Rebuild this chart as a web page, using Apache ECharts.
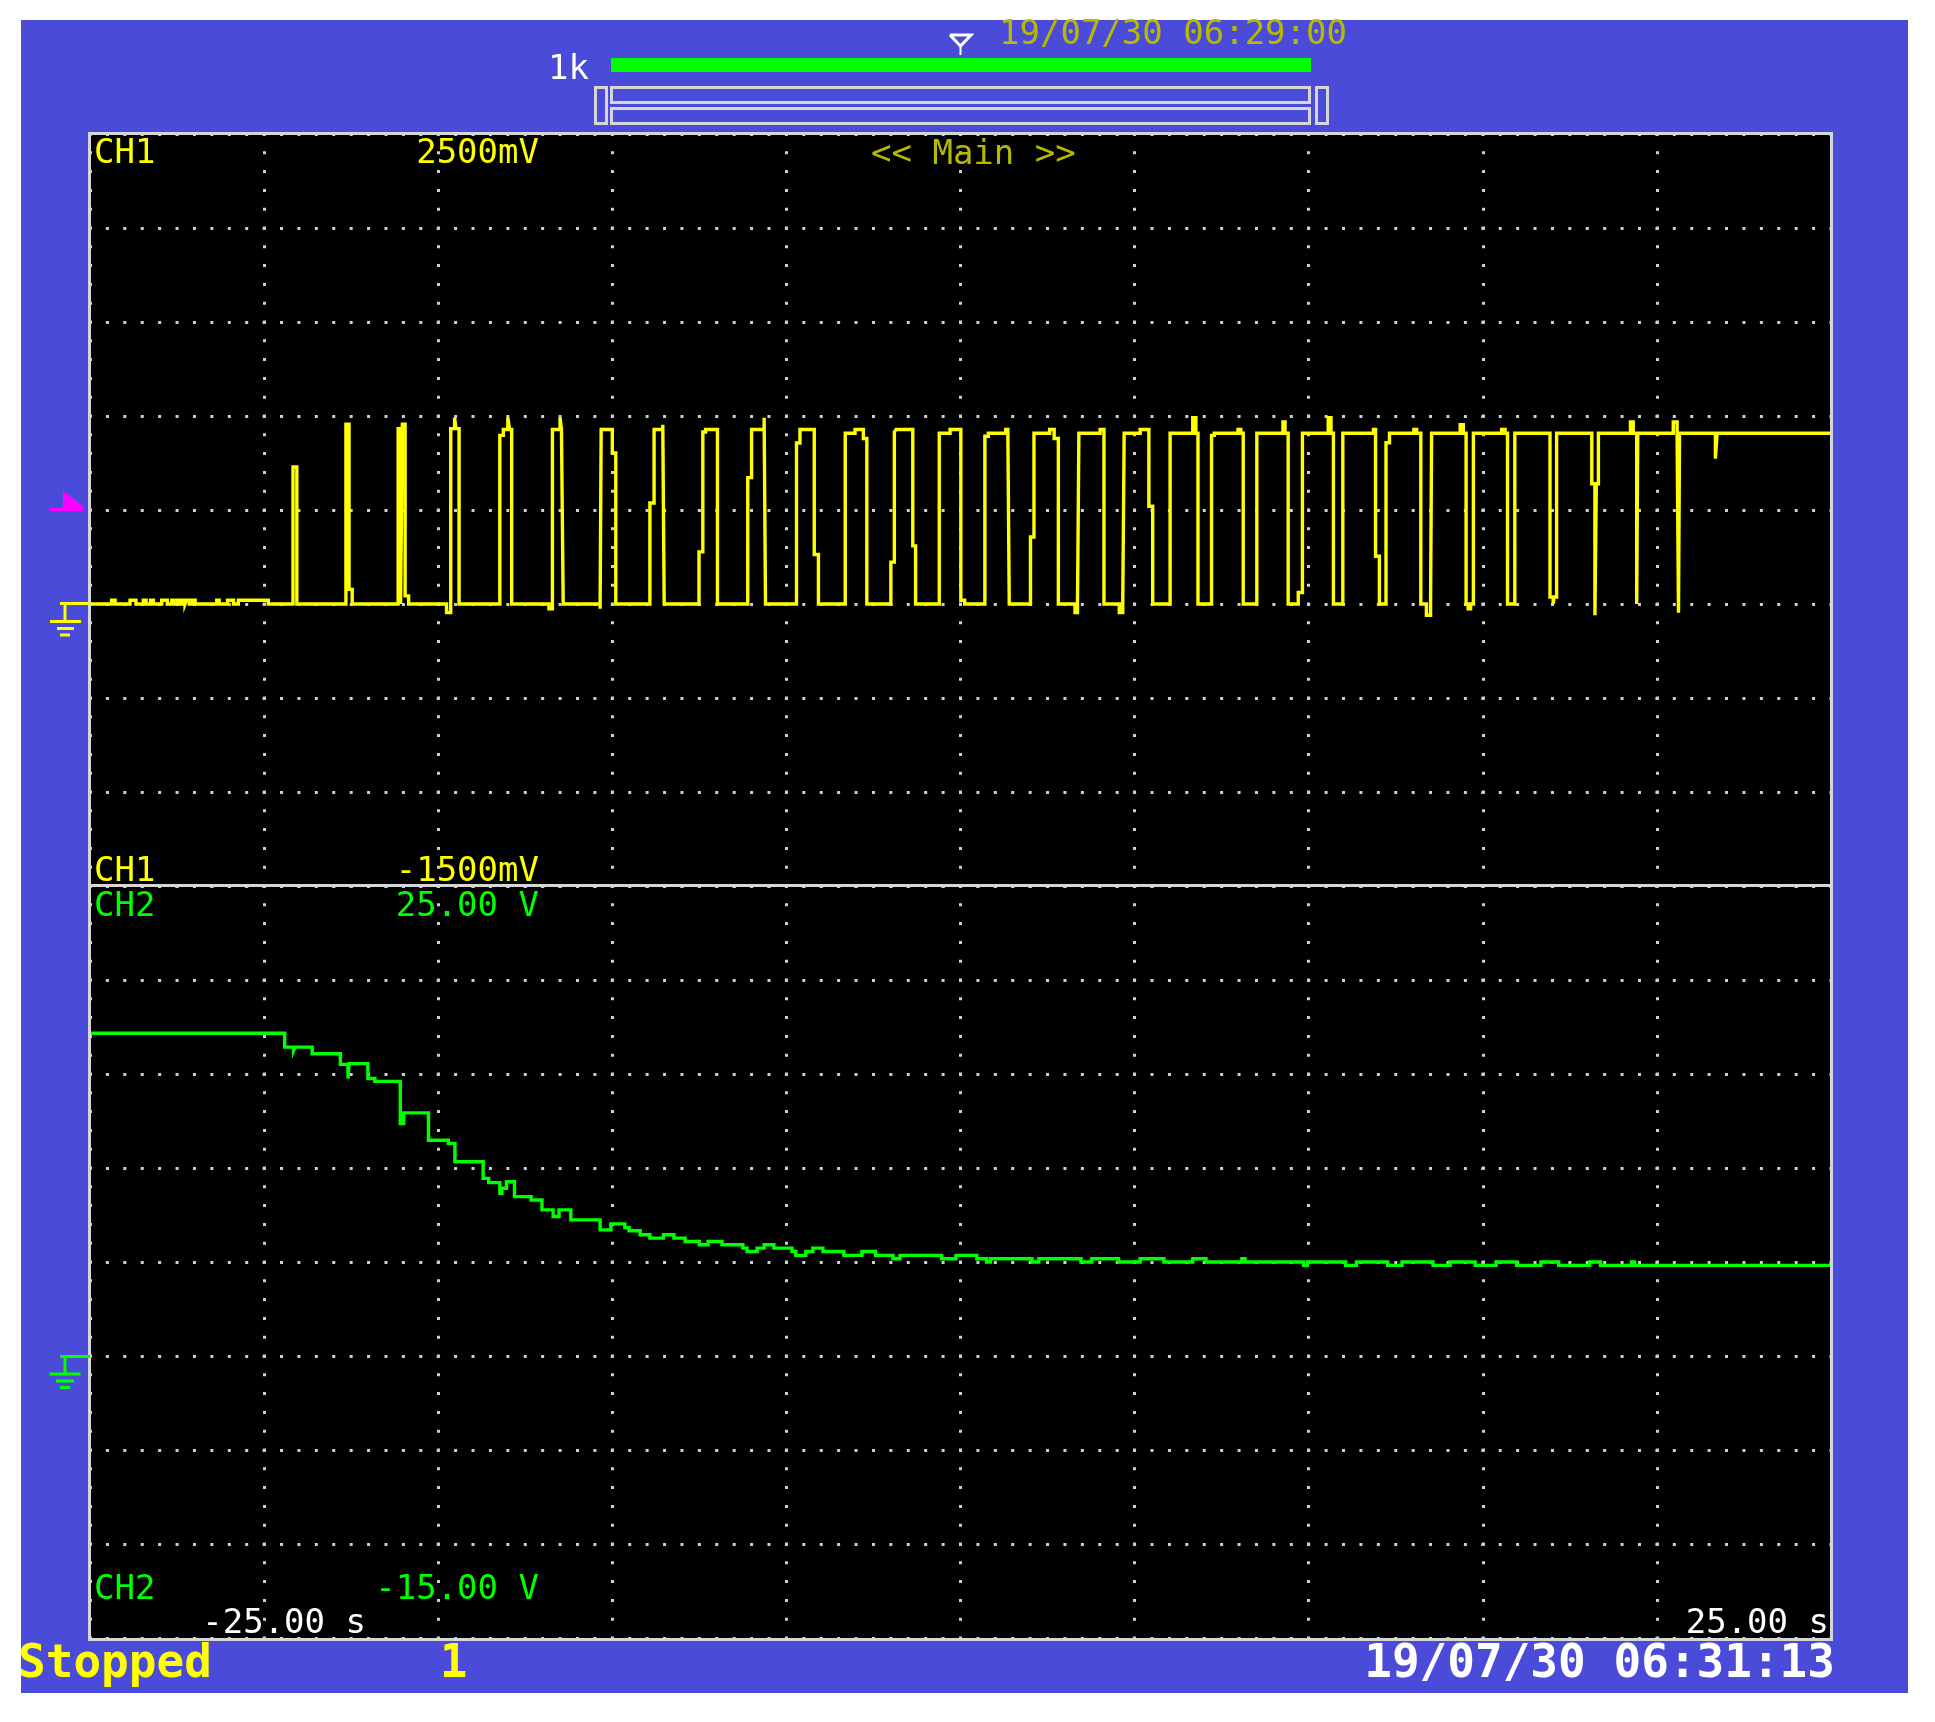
<!DOCTYPE html>
<html><head><meta charset="utf-8">
<script src="https://cdn.jsdelivr.net/npm/echarts@6/dist/echarts.min.js"></script>
<style>html,body{margin:0;padding:0;background:#fff}#c{width:1935px;height:1722px}</style>
</head><body><div id="c"></div>
<script>
// ---- axis settings ----
const timeMin = -25, timeMax = 25, timeStep = 5;       // s
const ch1Min = -1500, ch1Max = 2500, ch1Step = 500;    // mV
const ch2Min = -15, ch2Max = 25, ch2Step = 5;          // V

// ---- CH1 (mV), change points: from time t the level becomes v ----
const ch1Time = [-25,
 -24.38,-24.28,-23.85,-23.68,-23.47,-23.39,-23.26,-23.18,-22.94,-22.78,-22.65,-22.59,-22.49,-22.42,-22.34,-22.27,-22.23,-22.15,-22.05,-21.98,-21.36,-21.29,-21.05,-20.88,-20.74,-19.88,
 -19.17,-19.06,
 -17.65,-17.56,-17.47,
 -16.15,-16.08,-16.03,-15.95,-15.85,
 -14.76,-14.64,-14.53,-14.49,-14.40,
 -13.23,-13.13,-13.00,-12.95,-12.89,
 -11.82,-11.72,-11.50,-11.46,-11.41,
 -10.35,-10.32,-10.00,-9.90,
 -8.92,-8.80,-8.55,-8.51,
 -7.51,-7.40,-7.32,-6.98,
 -6.11,-6.00,-5.64,-5.60,
 -4.71,-4.61,-4.20,-4.08,
 -3.31,-3.03,-2.79,-2.69,
 -2.00,-1.90,-1.85,-1.37,-1.29,
 -0.61,-0.30,0.01,0.12,
 0.70,0.80,1.30,1.36,1.40,
 2.01,2.11,2.56,2.69,2.81,
 3.29,3.36,3.40,4.01,4.12,
 4.56,4.66,4.70,5.16,5.41,5.52,
 6.02,6.67,6.76,6.82,
 7.21,7.29,7.97,8.05,8.12,
 8.51,9.26,9.32,9.41,
 9.70,9.82,10.56,10.64,10.71,
 10.98,11.86,11.92,12.03,
 12.22,12.32,13.02,13.10,13.22,
 13.38,13.50,13.53,14.35,14.44,14.52,
 14.58,14.65,14.73,15.54,15.64,15.71,15.92,
 16.93,17.02,17.05,17.12,
 18.13,18.22,18.26,18.32,
 19.24,19.32,19.42,19.45,
 20.47,20.58,20.62,20.65,
 21.68,21.73,
 25];
const ch1Volt = [0,
 20,0,20,0,20,0,20,0,20,0,20,0,20,0,20,0,20,0,20,0,20,0,20,0,20,0,
 729,0,
 956,78,0,
 933,0,956,43,0,
 -46,933,991,933,0,
 897,928,991,928,0,
 -25,928,991,928,0,
 -25,928,803,0,
 537,928,954,0,
 277,915,928,0,
 672,928,991,0,
 856,928,263,0,
 908,928,880,0,
 223,915,928,309,0,
 908,928,20,0,
 892,908,928,908,0,
 356,908,928,880,0,
 -46,0,908,928,0,
 -46,0,908,928,520,0,
 908,991,908,0,
 897,908,928,908,0,
 908,968,908,0,
 61,908,991,908,0,
 908,928,254,0,
 858,908,928,908,0,
 -60,0,908,954,908,0,
 -25,0,908,928,908,0,908,
 37,0,37,908,
 640,-60,640,908,
 968,908,0,908,
 968,908,-46,908,
 773,908,
 908];

// ---- CH2 (V), change points ----
const ch2Time = [-25,-19.41,-19.15,-19.11,-18.62,-17.81,-17.59,-17.56,-17.02,-16.82,-16.09,-15.99,-15.28,-14.71,-14.52,
 -13.71,-13.55,-13.23,-13.17,-13.04,-12.81,-12.33,-12.02,-11.70,-11.53,-11.19,-10.35,-10.04,-9.64,-9.52,
 -9.20,-8.92,-8.53,-8.23,-7.91,-7.50,-7.25,-6.85,-6.25,-6.13,-5.84,-5.64,-5.36,-4.84,-4.73,-4.44,-4.24,
 -3.95,-3.35,-2.83,-2.44,-1.94,-1.74,-0.54,-0.13,0.47,0.75,0.86,2.05,2.25,3.46,3.77,4.54,5.16,5.84,
 6.67,7.05,8.08,8.17,9.85,9.96,11.06,11.37,12.27,12.68,13.57,14.06,14.78,15.38,15.97,16.67,17.18,
 18.07,18.38,19.27,19.36,25];
const ch2Volt = [17.17,16.43,16.25,16.43,16.08,15.51,14.76,15.55,14.76,14.61,12.37,12.93,11.48,11.31,10.33,
 9.45,9.22,8.66,8.92,9.27,8.48,8.30,7.77,7.42,7.77,7.24,6.71,7.03,6.83,6.66,
 6.45,6.27,6.45,6.27,6.09,5.92,6.09,5.92,5.74,5.56,5.74,5.92,5.74,5.56,5.35,5.56,5.74,
 5.56,5.35,5.56,5.35,5.17,5.35,5.17,5.35,5.17,5.00,5.17,5.00,5.17,5.00,5.17,5.00,5.17,5.00,
 5.17,5.00,5.17,5.00,4.82,5.00,4.82,5.00,4.82,5.00,4.82,5.00,4.82,5.00,4.82,5.00,4.82,
 5.00,4.82,5.00,4.82,4.82];

// ---- texts ----
const ch1TopLabel = '2500mV', ch1BotLabel = '-1500mV';
const ch2TopLabel = '25.00 V', ch2BotLabel = '-15.00 V';
const timeLeftLabel = '-25.00 s', timeRightLabel = '25.00 s';
const statusText = 'Stopped', countText = '1', nowStamp = '19/07/30 06:31:13';
const trigStamp = '19/07/30 06:29:00', zoomText = '1k', mainText = '<< Main >>';

// ---- layout ----
const L = 90, W = 1741, T1 = 134, H = 752, T2 = 886;
const BLUE = '#4a4bd9', FRAME = '#d6d6d6', DOT = '#cfcfcf';
const YEL = '#ffff00', GRN = '#00ff00', OLIVE = '#b8b800';
const MONO = '"DejaVu Sans Mono", "Liberation Mono", monospace';
const DY = 3;

function txt(text, x, y, fill, size, align, bold) {
  return {type: 'text', z: 60, style: {text, x, y: y + DY, fill, font: (bold ? 'bold ' : '') + size + 'px ' + MONO,
    textAlign: align, align: align, textVerticalAlign: 'middle', verticalAlign: 'middle'}};
}
function rect(x, y, w, h, fill, z) { return {type: 'rect', z: z == null ? 50 : z, shape: {x, y, width: w, height: h}, style: {fill}}; }
function box(x, y, w, h, stroke, lw) { return {type: 'rect', z: 50, shape: {x, y, width: w, height: h}, style: {fill: 'none', stroke, lineWidth: lw}}; }

const graphics = [
  rect(21, 20, 1887, 1673, BLUE, -100),
  rect(L, T1, W, 2 * H, '#000', -90),
  box(89.5, 133.5, 1742, 1506, FRAME, 3),
  rect(89, 884, 1743, 3, FRAME, 51),
  // top zoom bar
  rect(611, 58, 700, 14, GRN),
  box(595.5, 87.5, 11, 36, FRAME, 3),
  box(611.5, 87.5, 698, 15, FRAME, 3),
  box(611.5, 108.5, 698, 15, FRAME, 3),
  box(1316.5, 87.5, 11, 36, FRAME, 3),
  {type: 'polyline', z: 50, shape: {points: [[950, 35], [971, 35], [960.5, 46], [950, 35]]}, style: {stroke: '#fff', lineWidth: 3, fill: 'none'}},
  {type: 'line', z: 50, shape: {x1: 960.5, y1: 45, x2: 960.5, y2: 55}, style: {stroke: '#fff', lineWidth: 2}},
  // trigger level marker
  {type: 'polygon', z: 50, shape: {points: [[50, 508], [63, 508], [63, 491], [84, 507], [84, 511], [50, 511]]}, style: {fill: '#ff00ff'}},
  // CH1 ground marker
  rect(60, 602, 30, 3, YEL), rect(63.5, 602, 3, 19, YEL), rect(50, 620, 31, 3, YEL), rect(57, 627, 17, 3, YEL), rect(60, 633.5, 10, 3, YEL),
  // CH2 ground marker
  rect(60, 1355, 30, 3, GRN), rect(63.5, 1355, 3, 19, GRN), rect(49.5, 1372.5, 31, 3, GRN), rect(56, 1379.5, 18, 3, GRN), rect(60, 1386, 10, 3, GRN),
  // texts
  txt('CH1', 94, 151, YEL, 34, 'left'),
  txt(ch1TopLabel, 539, 151, YEL, 34, 'right'),
  txt(mainText, 871, 152, OLIVE, 34, 'left'),
  txt('CH1', 94, 869, YEL, 34, 'left'),
  txt(ch1BotLabel, 539, 869, YEL, 34, 'right'),
  txt('CH2', 94, 904, GRN, 34, 'left'),
  txt(ch2TopLabel, 539, 904, GRN, 34, 'right'),
  txt('CH2', 94, 1587, GRN, 34, 'left'),
  txt(ch2BotLabel, 539, 1587, GRN, 34, 'right'),
  txt(timeLeftLabel, 366, 1621, '#fff', 34, 'right'),
  txt(timeRightLabel, 1829, 1621, '#fff', 34, 'right'),
  txt(statusText, 18, 1662, YEL, 46, 'left', true),
  txt(countText, 453.5, 1662, YEL, 46, 'center', true),
  txt(nowStamp, 1835, 1662, '#fff', 46, 'right', true),
  txt(trigStamp, 999, 32, OLIVE, 34, 'left'),
  txt(zoomText, 589, 67, '#fff', 34, 'right')
];

function xAx(gi) {
  return {type: 'value', gridIndex: gi, min: timeMin, max: timeMax, interval: timeStep,
    axisLine: {show: false}, axisTick: {show: false}, axisLabel: {show: false},
    splitLine: {show: true, lineStyle: {color: DOT, width: 3, type: [3, 15.8], dashOffset: 1.5}}};
}
function yAx(gi, mn, mx, st) {
  return {type: 'value', gridIndex: gi, min: mn, max: mx, interval: st,
    axisLine: {show: false}, axisTick: {show: false}, axisLabel: {show: false},
    splitLine: {show: true, lineStyle: {color: DOT, width: 3, type: [3, 14.41], dashOffset: 1.5}}};
}

const chart = echarts.init(document.getElementById('c'), null, {renderer: 'canvas'});
chart.setOption({
  animation: false,
  backgroundColor: '#ffffff',
  grid: [{left: L, top: T1, width: W, height: H}, {left: L, top: T2, width: W, height: H}],
  xAxis: [xAx(0), xAx(1)],
  yAxis: [yAx(0, ch1Min, ch1Max, ch1Step), yAx(1, ch2Min, ch2Max, ch2Step)],
  graphic: {elements: graphics},
  series: [
    {type: 'line', name: 'CH1', xAxisIndex: 0, yAxisIndex: 0, step: 'end', symbol: 'none', z: 10,
     data: ch1Time.map((t, i) => [t, ch1Volt[i]]), lineStyle: {color: YEL, width: 3.4, join: 'miter'}},
    {type: 'line', name: 'CH2', xAxisIndex: 1, yAxisIndex: 1, step: 'end', symbol: 'none', z: 10,
     data: ch2Time.map((t, i) => [t, ch2Volt[i]]), lineStyle: {color: GRN, width: 3.4, join: 'miter'}}
  ]
});
</script></body></html>
